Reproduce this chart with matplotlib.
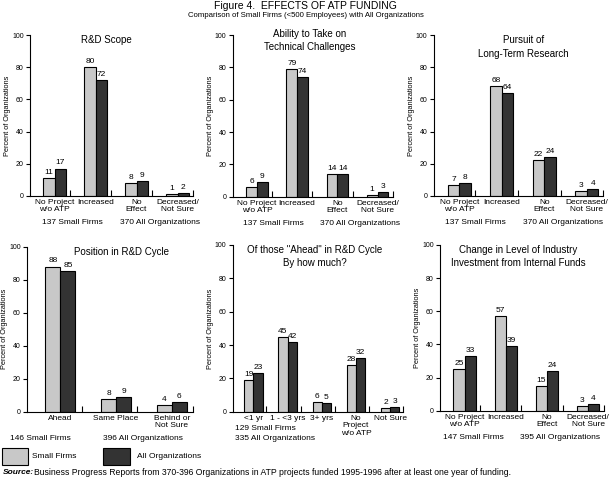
import matplotlib
matplotlib.use("Agg")
import matplotlib.pyplot as plt
from matplotlib.patches import Rectangle

plt.rcParams['font.family'] = ['Liberation Sans', 'DejaVu Sans']

LIGHT = "#c8c8c8"
DARK = "#333333"

# data, one entry per panel
titles = [
    "R&D Scope",
    "Ability to Take on\nTechnical Challenges",
    "Pursuit of\nLong-Term Research",
    "Position in R&D Cycle",
    "Of those \"Ahead\" in R&D Cycle\nBy how much?",
    "Change in Level of Industry\nInvestment from Internal Funds",
]
four_cats = ["No Project\nw/o ATP", "Increased", "No\nEffect", "Decreased/\nNot Sure"]
categories = [
    four_cats,
    four_cats,
    four_cats,
    ["Ahead", "Same Place", "Behind or\nNot Sure"],
    ["<1 yr", "1 - <3 yrs", "3+ yrs", "No\nProject\nw/o ATP", "Not Sure"],
    four_cats,
]
small_firms = [
    [11, 80, 8, 1],
    [6, 79, 14, 1],
    [7, 68, 22, 3],
    [88, 8, 4],
    [19, 45, 6, 28, 2],
    [25, 57, 15, 3],
]
all_orgs = [
    [17, 72, 9, 2],
    [9, 74, 14, 3],
    [8, 64, 24, 4],
    [85, 9, 6],
    [23, 42, 5, 32, 3],
    [33, 39, 24, 4],
]
n_small = [137, 137, 137, 146, 129, 147]
n_all = [370, 370, 370, 396, 335, 395]

# layout
axes_rects = [
    [0.049, 0.592, 0.267, 0.335],
    [0.381, 0.590, 0.262, 0.337],
    [0.710, 0.592, 0.277, 0.335],
    [0.044, 0.142, 0.272, 0.344],
    [0.381, 0.142, 0.279, 0.348],
    [0.720, 0.144, 0.268, 0.346],
]
title_x = [0.47, 0.48, 0.53, 0.57, 0.48, 0.48]
title_y = [1.0, 1.04, 1.0, 1.0, 1.0, 1.0]
# (x start, line) for the "N Small Firms" / "N All Organizations" text
small_pos = [(-0.30, 2), (-0.35, 2), (-0.34, 2), (-0.90, 2), (-0.54, 1), (-0.53, 2)]
all_pos = [(1.60, 2), (1.56, 2), (1.50, 2), (0.76, 2), (-0.54, 2), (1.34, 2)]

fig = plt.figure(figsize=(6.11, 4.80), dpi=100)

fig.text(0.5, 0.997, "Figure 4.  EFFECTS OF ATP FUNDING", ha="center", va="top", fontsize=7.5)
fig.text(0.5, 0.974, "Comparison of Small Firms (<500 Employees) with All Organizations",
         ha="center", va="top", fontsize=5.6)

w = 0.27
line_h = 7.2
for i in range(6):
    ax = fig.add_axes(axes_rects[i])
    n = len(categories[i])
    xs = list(range(n))
    b1 = ax.bar([x - w / 2 for x in xs], small_firms[i], w, color=LIGHT, edgecolor="black", linewidth=0.8)
    b2 = ax.bar([x + w / 2 for x in xs], all_orgs[i], w, color=DARK, edgecolor="black", linewidth=0.8)
    for bars in (b1, b2):
        for b in bars:
            ax.annotate(str(int(b.get_height())), (b.get_x() + b.get_width() / 2, b.get_height()),
                        xytext=(0, 1.5), textcoords="offset points", ha="center", va="bottom", fontsize=6)
    ax.set_xlim(-0.6, n - 1 + 0.38)
    ax.set_ylim(0, 100)
    ax.set_yticks([0, 20, 40, 60, 80, 100])
    ax.tick_params(axis="y", direction="out", length=3, width=0.8, labelsize=5, pad=1.5)
    ax.set_xticks([k + 0.38 for k in xs])
    ax.tick_params(axis="x", which="major", direction="in", length=4, width=0.8, labelbottom=False)
    ax.set_xticks(xs, categories[i], minor=True)
    ax.tick_params(axis="x", which="minor", length=0, labelsize=6, pad=2)
    for lab in ax.get_xticklabels(minor=True):
        lab.set_linespacing(1.15)
    for s in ("top", "right"):
        ax.spines[s].set_visible(False)
    for s in ("left", "bottom"):
        ax.spines[s].set_linewidth(0.8)
    ax.set_ylabel("Percent of Organizations", fontsize=5.3, labelpad=1)
    ax.text(title_x[i], title_y[i], titles[i], transform=ax.transAxes, ha="center", va="top",
            fontsize=7, linespacing=1.45)
    tr = ax.get_xaxis_transform()
    for txt, (px, ln) in ((f"{n_small[i]} Small Firms", small_pos[i]),
                          (f"{n_all[i]} All Organizations", all_pos[i])):
        ax.annotate(txt, (px, 0), xycoords=tr, xytext=(0, -2 - ln * line_h), textcoords="offset points",
                    ha="left", va="top", fontsize=6, annotation_clip=False)

# legend
fig.add_artist(Rectangle((0.004, 0.031), 0.042, 0.035, transform=fig.transFigure,
                         facecolor=LIGHT, edgecolor="black", linewidth=0.8))
fig.text(0.053, 0.049, "Small Firms", ha="left", va="center", fontsize=6)
fig.add_artist(Rectangle((0.169, 0.031), 0.044, 0.035, transform=fig.transFigure,
                         facecolor=DARK, edgecolor="black", linewidth=0.8))
fig.text(0.224, 0.049, "All Organizations", ha="left", va="center", fontsize=6)

fig.text(0.005, 0.016, "Source:", ha="left", va="center", fontsize=6, fontweight="bold", fontstyle="italic")
fig.text(0.056, 0.016, "Business Progress Reports from 370-396 Organizations in ATP projects funded "
         "1995-1996 after at least one year of funding.", ha="left", va="center", fontsize=6.2)

fig.savefig("out.png", dpi=100)
